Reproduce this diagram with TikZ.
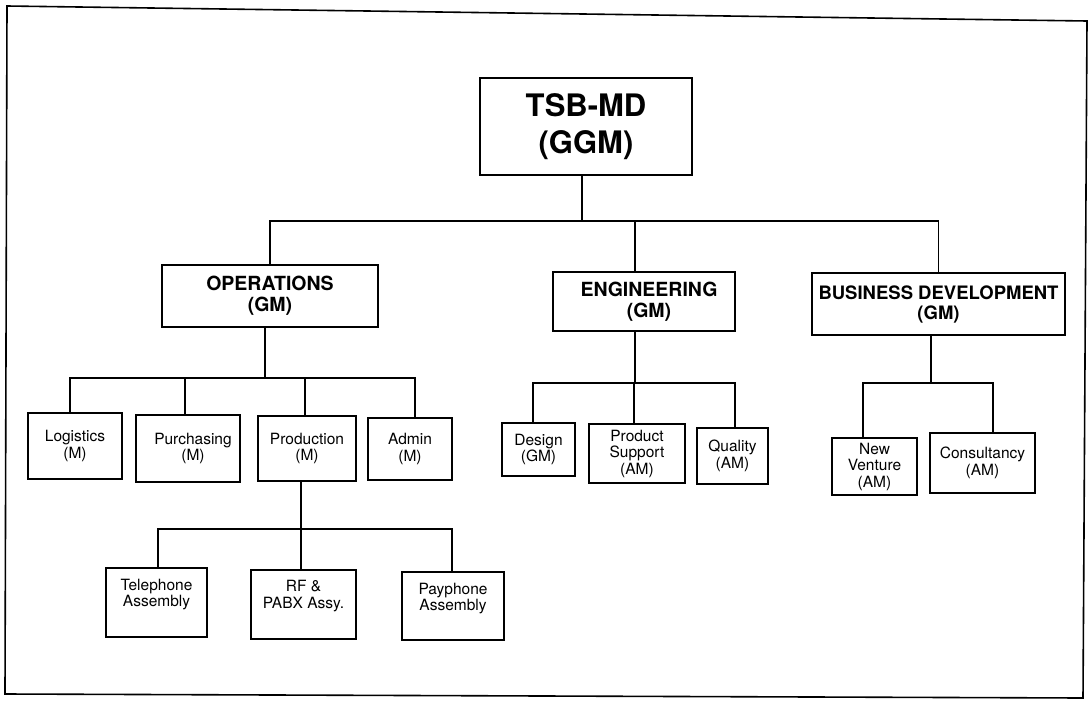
\documentclass[tikz,border=0pt]{standalone}
\usepackage{fontspec}
\setmainfont{TeX Gyre Heros}
\begin{document}
\begin{tikzpicture}[x=1pt,y=-1pt,
  conn/.style={line width=1.5pt},
  box/.style={draw,line width=1.5pt,rectangle,inner sep=0pt,align=center},
  topbox/.style={box,font=\fontsize{31}{37}\selectfont\bfseries},
  deptbox/.style={box,font=\fontsize{19.5}{21}\selectfont\bfseries},
  unitbox/.style={box,font=\fontsize{15.5}{16.5}\selectfont},
  frame/.style={line width=1.6pt,line join=miter}]
\useasboundingbox (0,0) rectangle (1090,704);
\draw[frame] (7,6) -- (1087,21) -- (1083,698) -- (5,694) -- cycle;

% top
\node[topbox,minimum width=212pt,minimum height=97pt] (TSB) at (586,126.5) {TSB-MD\\(GGM)};

% departments
\node[deptbox,minimum width=216pt,minimum height=62pt] (OPS) at (270,296) {OPERATIONS\\(GM)};
\node[deptbox,minimum width=182pt,minimum height=59pt] (ENG) at (644,301.5) {\hspace*{10pt}ENGINEERING\\\hspace*{10pt}(GM)};
\node[deptbox,minimum width=253pt,minimum height=62pt,font=\fontsize{18.5}{20}\selectfont\bfseries] (BD) at (938.5,304) {BUSINESS DEVELOPMENT\\(GM)};

% operations units
\node[unitbox,minimum width=94pt,minimum height=66pt] (LOG) at (75,446) {Logistics\\(M)};
\node[unitbox,minimum width=104pt,minimum height=67pt] (PUR) at (188,448.5) {\hspace*{10pt}Purchasing\\\hspace*{10pt}(M)};
\node[unitbox,minimum width=98pt,minimum height=65pt] (PRO) at (307,448.5) {Production\\(M)};
\node[unitbox,minimum width=84pt,minimum height=62pt] (ADM) at (410,449) {Admin\\(M)};

% production units
\node[unitbox,minimum width=101pt,minimum height=69pt] (TEL) at (156.5,602.5) {Telephone\\Assembly\\[3pt]};
\node[unitbox,minimum width=105pt,minimum height=69pt] (RF) at (303.5,604.5) {RF \&\\PABX Assy.\\[4pt]};
\node[unitbox,minimum width=102pt,minimum height=68pt] (PAY) at (453,606) {Payphone\\Assembly\\[2pt]};

% engineering units
\node[unitbox,minimum width=73pt,minimum height=53pt] (DES) at (538.5,449.5) {Design\\(GM)};
\node[unitbox,minimum width=96pt,minimum height=59pt] (PS) at (637,453.5) {Product\\Support\\(AM)};
\node[unitbox,minimum width=71pt,minimum height=56pt] (QUA) at (732.5,456) {Quality\\(AM)};

% business development units
\node[unitbox,minimum width=85pt,minimum height=57pt] (NV) at (874.5,466.5) {New\\Venture\\(AM)};
\node[unitbox,minimum width=105pt,minimum height=60pt] (CON) at (982.5,463) {Consultancy\\(AM)};

% bus levels
\coordinate (b1) at (0,221);
\coordinate (b2) at (0,378);
\coordinate (b3) at (0,383);
\coordinate (b4) at (0,529);
\coordinate (b5) at (0,383);

% stem anchors
\coordinate (tsbS) at ([xshift=-4pt]TSB.south);
\coordinate (engN) at ([xshift=-9pt]ENG.north);
\coordinate (engS) at ([xshift=-9pt]ENG.south);
\coordinate (opsS) at ([xshift=-5pt]OPS.south);
\coordinate (bdS) at ([xshift=-7.5pt]BD.south);
\coordinate (logN) at ([xshift=-5pt]LOG.north);
\coordinate (purN) at ([xshift=-3pt]PUR.north);
\coordinate (proN) at ([xshift=-2pt]PRO.north);
\coordinate (proS) at ([xshift=-6pt]PRO.south);
\coordinate (admN) at ([xshift=5pt]ADM.north);
\coordinate (telN) at ([xshift=1.5pt]TEL.north);
\coordinate (rfN) at ([xshift=-2.5pt]RF.north);
\coordinate (payN) at ([xshift=-1pt]PAY.north);
\coordinate (desN) at ([xshift=-5.5pt]DES.north);
\coordinate (psN) at ([xshift=-3pt]PS.north);
\coordinate (quaN) at ([xshift=2.5pt]QUA.north);
\coordinate (nvN) at ([xshift=-11.5pt]NV.north);
\coordinate (conN) at ([xshift=10.5pt]CON.north);

% level 1
\draw[conn] (tsbS) -- (tsbS |- b1);
\draw[conn] (OPS.north) -- (OPS.north |- b1) -- (BD.north |- b1) -- (BD.north);
\draw[conn] (engN) -- (engN |- b1);

% operations
\draw[conn] (opsS) -- (opsS |- b2);
\draw[conn] (logN) -- (logN |- b2) -- (admN |- b2) -- (admN);
\draw[conn] (purN) -- (purN |- b2);
\draw[conn] (proN) -- (proN |- b2);

% production
\draw[conn] (proS) -- (proS |- b4);
\draw[conn] (telN) -- (telN |- b4) -- (payN |- b4) -- (payN);
\draw[conn] (rfN) -- (rfN |- b4);

% engineering
\draw[conn] (engS) -- (engS |- b3);
\draw[conn] (desN) -- (desN |- b3) -- (quaN |- b3) -- (quaN);
\draw[conn] (psN) -- (psN |- b3);

% business development
\draw[conn] (bdS) -- (bdS |- b5);
\draw[conn] (nvN) -- (nvN |- b5) -- (conN |- b5) -- (conN);
\end{tikzpicture}
\end{document}
